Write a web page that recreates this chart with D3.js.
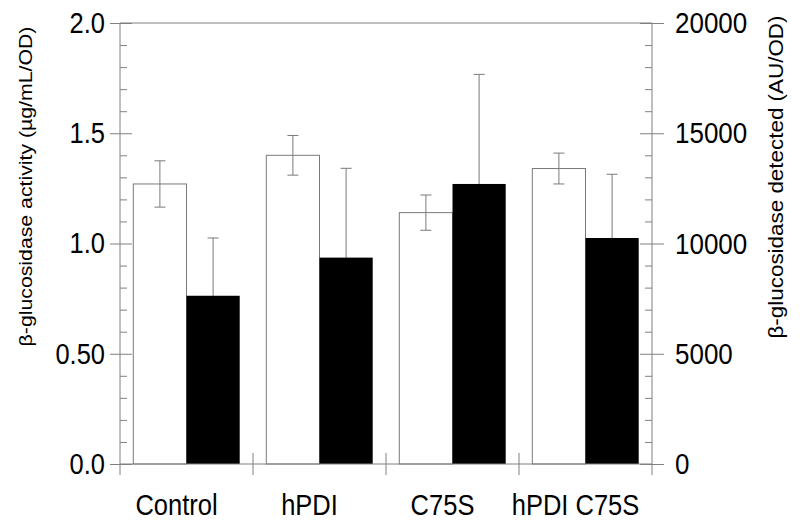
<!DOCTYPE html>
<html>
<head>
<meta charset="utf-8">
<script src="https://cdn.jsdelivr.net/npm/d3@7"></script>
<style>
  html, body { margin: 0; padding: 0; background: #fff; }
  svg { display: block; }
  text { font-family: Arial, "Liberation Sans", Helvetica, sans-serif; fill: #000; }
</style>
</head>
<body>
<svg id="chart" width="800" height="523"></svg>
<script>
// ---- data ----
const categories = ["Control", "hPDI", "C75S", "hPDI C75S"];
const activity = [1.27, 1.40, 1.14, 1.34];          // left axis, white bars
const activityErr = [0.105, 0.09, 0.08, 0.07];
const detected = [7630, 9360, 12700, 10250];        // right axis, black bars
const detectedErr = [2620, 4050, 4970, 2890];
const leftTicks = [0, 0.5, 1.0, 1.5, 2.0];
const leftTickLabels = ["0.0", "0.50", "1.0", "1.5", "2.0"];
const rightTicks = [0, 5000, 10000, 15000, 20000];
const rightTickLabels = ["0", "5000", "10000", "15000", "20000"];
const leftTitle = "β-glucosidase activity (µg/mL/OD)";
const rightTitle = "β-glucosidase detected (AU/OD)";

// ---- layout ----
const L = 120, R = 652, T = 23, B = 464;
const axisColor = "#808080";
const stretch = 1.15;
const svg = d3.select("#chart");

const x = d3.scaleBand().domain(categories).range([L, R]).paddingInner(0).paddingOuter(0);
const sub = d3.scaleBand().domain(["a", "d"]).range([0, x.bandwidth()]).paddingInner(0).paddingOuter(0.25);
const yL = d3.scaleLinear().domain([0, 2]).range([B, T]);
const yR = d3.scaleLinear().domain([0, 20000]).range([B, T]);

const rows = categories.map((c, i) => ({c, a: activity[i], ae: activityErr[i], d: detected[i], de: detectedErr[i]}));

// white bars
svg.append("g").selectAll("rect").data(rows).join("rect")
  .attr("x", r => x(r.c) + sub("a"))
  .attr("y", r => yL(r.a))
  .attr("width", sub.bandwidth())
  .attr("height", r => B - yL(r.a))
  .attr("fill", "#fff").attr("stroke", "#7a7a7a").attr("stroke-width", 1);

// error bars
const capW = 11;
const eg = svg.append("g").attr("stroke", "#7a7a7a").attr("stroke-width", 1).attr("fill", "none");
rows.forEach(r => {
  const cxA = x(r.c) + sub("a") + sub.bandwidth() / 2;
  const y1 = yL(r.a + r.ae), y2 = yL(r.a - r.ae);
  eg.append("line").attr("x1", cxA).attr("x2", cxA).attr("y1", y1).attr("y2", y2);
  eg.append("line").attr("x1", cxA - capW / 2).attr("x2", cxA + capW / 2).attr("y1", y1).attr("y2", y1);
  eg.append("line").attr("x1", cxA - capW / 2).attr("x2", cxA + capW / 2).attr("y1", y2).attr("y2", y2);
  const cxD = x(r.c) + sub("d") + sub.bandwidth() / 2;
  const yd1 = yR(r.d + r.de), yd2 = yR(r.d - r.de);
  eg.append("line").attr("x1", cxD).attr("x2", cxD).attr("y1", yd1).attr("y2", yd2);
  eg.append("line").attr("x1", cxD - capW / 2).attr("x2", cxD + capW / 2).attr("y1", yd1).attr("y2", yd1);
});

// black bars (cover lower half of their error bars)
svg.append("g").selectAll("rect").data(rows).join("rect")
  .attr("x", r => x(r.c) + sub("d"))
  .attr("y", r => yR(r.d))
  .attr("width", sub.bandwidth())
  .attr("height", r => B - yR(r.d))
  .attr("fill", "#000");

// frame lines
const fg = svg.append("g").attr("stroke", axisColor).attr("stroke-width", 1);
fg.append("line").attr("x1", L).attr("x2", R).attr("y1", T).attr("y2", T);
fg.append("line").attr("x1", L).attr("x2", R).attr("y1", B).attr("y2", B);
fg.append("line").attr("x1", L).attr("x2", L).attr("y1", T).attr("y2", B + 11);
fg.append("line").attr("x1", R).attr("x2", R).attr("y1", T).attr("y2", B + 11);
// category separators
categories.slice(1).forEach(c => {
  fg.append("line").attr("x1", x(c)).attr("x2", x(c)).attr("y1", B - 11).attr("y2", B + 11);
});

// left axis major
const gl = svg.append("g").attr("transform", `translate(${L},0)`)
  .call(d3.axisLeft(yL).tickValues(leftTicks).tickSize(10).tickPadding(5)
    .tickFormat((d, i) => leftTickLabels[i]));
gl.select(".domain").remove();
gl.selectAll(".tick line").attr("x1", 12).attr("stroke", axisColor);
gl.selectAll(".tick text").attr("font-size", 25.5).attr("font-family", null).attr("fill", "#000")
  .attr("transform", `scale(1,${stretch})`);

// left minor ticks
const leftMinor = d3.range(0, 21).map(v => v / 10).filter((v, i) => i % 5 !== 0);
const glm = svg.append("g").attr("transform", `translate(${L},0)`)
  .call(d3.axisRight(yL).tickValues(leftMinor).tickSize(7).tickFormat(""));
glm.select(".domain").remove();
glm.selectAll(".tick line").attr("stroke", axisColor);

// right axis major
const gr = svg.append("g").attr("transform", `translate(${R},0)`)
  .call(d3.axisRight(yR).tickValues(rightTicks).tickSize(12).tickPadding(11)
    .tickFormat((d, i) => rightTickLabels[i]));
gr.select(".domain").remove();
gr.selectAll(".tick line").attr("x1", -12).attr("stroke", axisColor);
gr.selectAll(".tick text").attr("font-size", 26).attr("font-family", null).attr("fill", "#000")
  .attr("transform", `scale(1,${stretch})`);

// right minor ticks
const rightMinor = d3.range(0, 21).map(v => v * 1000).filter((v, i) => i % 5 !== 0);
const grm = svg.append("g").attr("transform", `translate(${R},0)`)
  .call(d3.axisLeft(yR).tickValues(rightMinor).tickSize(7).tickFormat(""));
grm.select(".domain").remove();
grm.selectAll(".tick line").attr("stroke", axisColor);

// category labels
svg.append("g").selectAll("text").data(categories).join("text")
  .attr("transform", c => `translate(${x(c) + x.bandwidth() / 2 - 10},515) scale(1,${stretch})`)
  .attr("text-anchor", "middle")
  .attr("font-size", 25.5)
  .text(c => c);

// axis titles
svg.append("text")
  .attr("transform", `translate(26,186.5) rotate(-90) scale(${stretch},1)`)
  .attr("text-anchor", "middle").attr("dominant-baseline", "central")
  .attr("font-size", 18.5).text(leftTitle);
svg.append("text")
  .attr("transform", `translate(776,177) rotate(-90) scale(${stretch},1)`)
  .attr("text-anchor", "middle").attr("dominant-baseline", "central")
  .attr("font-size", 19.5).text(rightTitle);
</script>
</body>
</html>
